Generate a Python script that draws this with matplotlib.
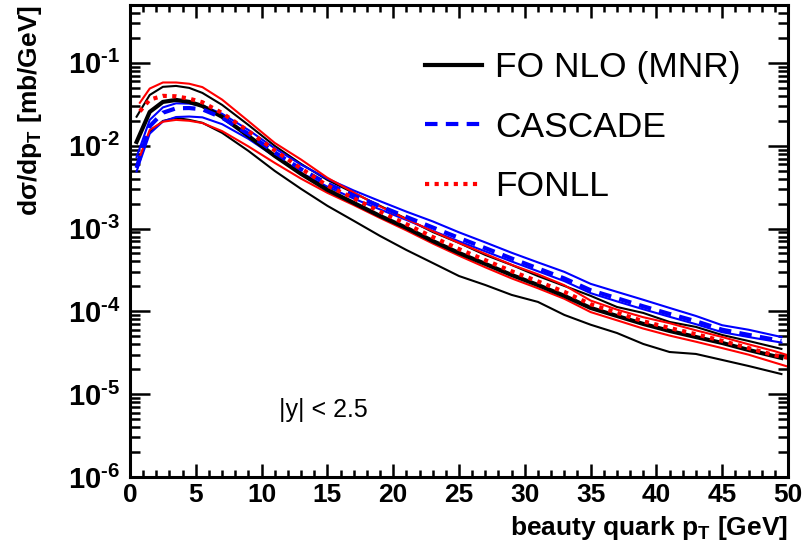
import numpy as np
import matplotlib
matplotlib.use('Agg')
import matplotlib.pyplot as plt
from matplotlib.ticker import LogLocator, NullFormatter, MultipleLocator

plt.rcParams.update({
    'font.family': 'Liberation Sans',
    'mathtext.fontset': 'custom',
    'mathtext.rm': 'Liberation Sans',
    'mathtext.bf': 'Liberation Sans:bold',
    'mathtext.it': 'Liberation Sans:italic',
})

# pT bin centres [GeV]
pt_mnr = [0.5, 1.5, 2.5, 3.5, 4.5, 5.5, 7, 9, 11, 13, 15, 17, 19, 21, 23, 25, 27,
          29, 31, 33, 35, 37, 39, 41, 43, 45, 47, 49.5]
pt_fonll = [0.75, 1.5, 2.5, 3.5, 4.5, 5.5, 7, 9, 11, 13, 15, 17, 19, 21, 23, 25, 27,
            29, 31, 33, 35, 37, 39, 41, 43, 45, 47, 49, 50]

# FO NLO (MNR): central, upper and lower scale variation [mb/GeV]
mnr = [0.0111, 0.0256, 0.0338, 0.0357, 0.0338, 0.0302, 0.0223, 0.0131, 0.00753,
       0.00457, 0.00293, 0.00204, 0.00142, 1.02e-3, 7.08e-4, 5.07e-4, 3.74e-4,
       2.75e-4, 2.08e-4, 1.54e-4, 1.10e-4, 8.8e-5, 7.05e-5, 5.8e-5, 4.9e-5,
       4.15e-5, 3.42e-5, 2.74e-5]
mnr_up = [0.0224, 0.041, 0.0514, 0.0527, 0.0499, 0.0434, 0.0311, 0.0178, 0.00995,
          0.00603, 0.00386, 0.00269, 0.00188, 1.31e-3, 9.09e-4, 6.7e-4, 4.8e-4,
          3.63e-4, 2.67e-4, 2.03e-4, 1.54e-4, 1.13e-4, 9.57e-5, 7.45e-5, 6.49e-5,
          5.18e-5, 4.39e-5, 3.52e-5]
mnr_lo = [0.0056, 0.0147, 0.0199, 0.0217, 0.0205, 0.0189, 0.0143, 0.00865, 0.00496,
          0.00301, 0.00188, 0.00124, 8.14e-4, 5.51e-4, 3.84e-4, 2.67e-4, 2.08e-4,
          1.58e-4, 1.30e-4, 9.06e-5, 6.9e-5, 5.48e-5, 4.04e-5, 3.23e-5, 3.06e-5,
          2.59e-5, 2.19e-5, 1.75e-5]

# CASCADE
cas = [0.0054, 0.0172, 0.025, 0.0283, 0.0285, 0.0275, 0.0218, 0.0139, 0.0083,
       0.0052, 0.00348, 0.0025, 0.00186, 1.38e-3, 1.03e-3, 7.7e-4, 5.8e-4,
       4.35e-4, 3.3e-4, 2.5e-4, 1.8e-4, 1.44e-4, 1.15e-4, 9.3e-5, 7.6e-5,
       6.0e-5, 5.2e-5, 4.4e-5]
cas_up = [0.0073, 0.0205, 0.029, 0.0325, 0.0322, 0.0305, 0.0243, 0.0155, 0.0093,
          0.0059, 0.004, 0.00288, 0.00214, 1.6e-3, 1.22e-3, 9.0e-4, 6.8e-4,
          5.1e-4, 3.9e-4, 3.0e-4, 2.15e-4, 1.72e-4, 1.38e-4, 1.10e-4, 8.8e-5,
          6.8e-5, 6.0e-5, 4.9e-5]
cas_lo = [0.0049, 0.014, 0.0196, 0.0222, 0.0225, 0.022, 0.0182, 0.0121, 0.0074,
          0.0047, 0.0032, 0.0023, 0.0017, 1.27e-3, 9.4e-4, 7.0e-4, 5.3e-4,
          4.0e-4, 3.05e-4, 2.32e-4, 1.66e-4, 1.32e-4, 1.06e-4, 8.6e-5, 7.0e-5,
          5.6e-5, 4.9e-5, 4.2e-5]

# FONLL
fonll = [0.026, 0.036, 0.040, 0.0395, 0.037, 0.0335, 0.0248, 0.015, 0.0088,
         0.0053, 0.0033, 0.00232, 0.0016, 1.13e-3, 7.9e-4, 5.65e-4, 4.15e-4,
         3.05e-4, 2.3e-4, 1.72e-4, 1.22e-4, 9.6e-5, 7.6e-5, 6.3e-5, 5.3e-5,
         4.4e-5, 3.6e-5, 2.95e-5, 2.75e-5]
fonll_up = [0.033, 0.049, 0.058, 0.058, 0.056, 0.051, 0.036, 0.0198, 0.0108,
            0.0068, 0.0041, 0.00272, 0.00185, 1.3e-3, 9.3e-4, 6.7e-4, 4.95e-4,
            3.65e-4, 2.8e-4, 2.07e-4, 1.35e-4, 1.05e-4, 8.5e-5, 7.2e-5, 5.9e-5,
            4.9e-5, 4.0e-5, 3.3e-5, 2.95e-5]
fonll_lo = [0.0074, 0.0155, 0.0195, 0.0205, 0.020, 0.0188, 0.015, 0.0098, 0.0062,
            0.0040, 0.0027, 0.00192, 0.00134, 9.5e-4, 6.6e-4, 4.7e-4, 3.4e-4,
            2.5e-4, 1.9e-4, 1.42e-4, 9.8e-5, 7.8e-5, 6.2e-5, 5.1e-5, 4.3e-5,
            3.6e-5, 3.0e-5, 2.4e-5, 2.15e-5]

x_ticks = list(range(0, 51, 5))
y_ticks = [1e-6, 1e-5, 1e-4, 1e-3, 1e-2, 1e-1]

fig = plt.figure(figsize=(8.03, 5.45), dpi=100)
ax = fig.add_axes([130/803, 68/545, 658/803, 472/545])

# uncertainty bands as thin lines
ax.plot(pt_mnr, mnr_up, color='black', lw=1.5)
ax.plot(pt_mnr, mnr_lo, color='black', lw=1.5)
ax.plot(pt_mnr, cas_up, color='blue', lw=1.5)
ax.plot(pt_mnr, cas_lo, color='blue', lw=1.5)
ax.plot(pt_fonll, fonll_up, color='red', lw=1.5)
ax.plot(pt_fonll, fonll_lo, color='red', lw=1.5)

# central predictions
l1, = ax.plot(pt_mnr, mnr, color='black', lw=3)
l2, = ax.plot(pt_mnr, cas, color='blue', lw=3, ls=(0, (3, 2)), dash_capstyle='butt')
l3, = ax.plot(pt_fonll, fonll, color='red', lw=3, ls=(0, (1, 1.3)), dash_capstyle='butt')

ax.set_yscale('log')
ax.set_xlim(0, 50)
ax.set_ylim(1e-6, 0.5)

for side in ax.spines.values():
    side.set_linewidth(2.2)

ax.set_xticks(x_ticks)
ax.set_xticklabels([str(v) for v in x_ticks])
ax.xaxis.set_minor_locator(MultipleLocator(1))
ax.set_yticks(y_ticks)
# short hyphen in the exponent, as in ROOT
ax.set_yticklabels(['$\\mathbf{10^{\u2010%d}}$' % round(-np.log10(v)) for v in y_ticks])
ax.yaxis.set_minor_locator(LogLocator(base=10, subs=np.arange(2, 10), numticks=20))
ax.yaxis.set_minor_formatter(NullFormatter())

ax.tick_params(which='both', direction='in', top=True, right=True, width=1.8)
ax.tick_params(axis='x', which='major', length=9.5, pad=4)
ax.tick_params(axis='x', which='minor', length=4.7)
ax.tick_params(axis='y', which='major', length=14.5, pad=7)
ax.tick_params(axis='y', which='minor', length=7.2)
for lab in ax.get_xticklabels():
    lab.set_fontsize(19)
    lab.set_fontweight('bold')
for lab in ax.get_yticklabels():
    lab.set_fontsize(21)
    lab.set_fontweight('bold')

ax.set_xlabel(r'beauty quark p$_{\mathbf{T}}$ [GeV]', fontsize=19, fontweight='bold',
              loc='right', labelpad=5)
ax.set_ylabel(r'd$\mathbf{\sigma}$/dp$_{\mathbf{T}}$ [mb/GeV]', fontsize=19,
              fontweight='bold', loc='top', labelpad=17)

ax.text(11.3, 6.4e-6, '|y| < 2.5', fontsize=18, ha='left', va='center')

ax.legend([l1, l2, l3], ['FO NLO (MNR)', 'CASCADE', 'FONLL'], frameon=False,
          fontsize=25.5, handlelength=1.6, handletextpad=0.38, labelspacing=0.75,
          loc='upper left', bbox_to_anchor=(425/803, 1 - 51/545),
          bbox_transform=fig.transFigure, borderpad=0, borderaxespad=0)

fig.savefig('out.png', dpi=100)
